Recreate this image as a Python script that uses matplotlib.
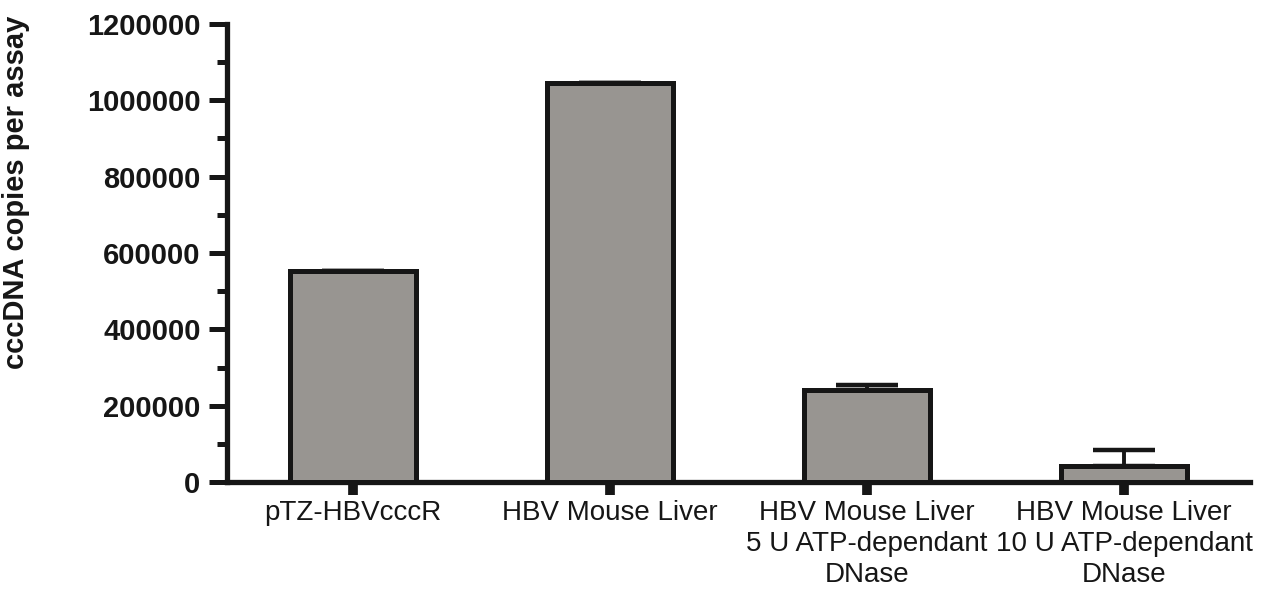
import matplotlib.pyplot as plt
from matplotlib.ticker import MultipleLocator

# cccDNA quantification per assay
categories = [
    "pTZ-HBVcccR",
    "HBV Mouse Liver",
    "HBV Mouse Liver\n5 U ATP-dependant\nDNase",
    "HBV Mouse Liver\n10 U ATP-dependant\nDNase",
]
copies = [553000, 1045000, 242000, 43000]
errors_up = [0, 0, 14000, 43000]

ink = "#161616"
bar_fill = "#989591"

plt.rcParams["font.family"] = ["Liberation Sans", "DejaVu Sans"]

fig = plt.figure(figsize=(12.71, 5.89), dpi=100)
ax = fig.add_axes([0.1786, 0.181, 0.805, 0.779])

x = range(len(categories))
ax.bar(x, copies, width=0.49, color=bar_fill, edgecolor=ink, linewidth=3.6, zorder=3)
ax.errorbar(x, copies, yerr=[[0] * len(copies), errors_up], fmt="none",
            ecolor=ink, elinewidth=2.8, capsize=22, capthick=3.2, zorder=2)

ax.set_xlim(-0.49, 3.49)
ax.set_ylim(0, 1200000)
ax.yaxis.set_major_locator(MultipleLocator(200000))
ax.yaxis.set_minor_locator(MultipleLocator(100000))
ax.set_yticklabels([f"{int(v)}" for v in ax.get_yticks()])

ax.set_xticks(list(x))
ax.set_xticklabels(categories, fontsize=20, color=ink, linespacing=1.25)

for lbl in ax.get_yticklabels():
    lbl.set_fontweight("bold")
    lbl.set_fontsize(21)
    lbl.set_color(ink)

ax.tick_params(axis="y", which="major", length=13, width=3.6, color=ink, pad=6)
ax.tick_params(axis="y", which="minor", length=7, width=3.6, color=ink)
ax.tick_params(axis="x", which="major", length=9, width=7, color=ink, pad=4)

for side in ["top", "right"]:
    ax.spines[side].set_visible(False)
for side in ["left", "bottom"]:
    ax.spines[side].set_linewidth(3.8)
    ax.spines[side].set_color(ink)

ax.set_ylabel("cccDNA copies per assay", fontsize=21, fontweight="bold", color=ink)
ax.yaxis.set_label_coords(-0.193, 0.632)

plt.savefig("out.png", dpi=100)
plt.close()
